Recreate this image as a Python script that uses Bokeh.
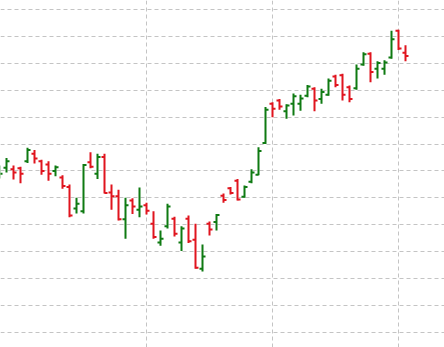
from bokeh.plotting import figure
from bokeh.models import FixedTicker, ColumnDataSource, Range1d
from bokeh.embed import file_html
from bokeh.resources import INLINE

# OHLC data (one bar per session)
opens = [129.0, 130.6, 130.3, 130.5, 131.8, 133.2, 131.8, 131.2, 130.0, 128.8,
         127.0, 123.0, 122.5, 131.6, 129.5, 132.6, 126.0, 125.3, 121.0, 124.5,
         122.8, 123.6, 120.2, 116.7, 119.7, 121.1, 116.7, 121.1, 117.2, 111.8,
         120.2, 120.5, 125.4, 126.8, 128.2, 125.2, 128.0, 129.3, 135.2, 142.5,
         143.1, 141.1, 142.5, 142.5, 144.0, 145.3, 143.4, 144.2, 147.6, 147.8,
         145.6, 145.4, 149.8, 151.8, 149.0, 149.0, 151.1, 156.1, 152.0]
highs = [131.0, 132.4, 131.0, 130.8, 134.3, 133.9, 132.1, 131.8, 131.0, 129.2,
         127.5, 125.0, 131.3, 133.5, 133.2, 133.2, 127.5, 126.5, 125.0, 124.9,
         126.9, 124.1, 122.5, 118.9, 123.9, 121.5, 119.7, 121.7, 120.2, 116.3,
         120.6, 122.0, 125.8, 127.0, 128.5, 127.3, 130.3, 134.4, 141.9, 142.8,
         143.4, 142.4, 144.4, 144.2, 146.0, 145.6, 145.3, 147.2, 147.9, 148.1,
         145.9, 149.8, 152.1, 152.1, 150.4, 150.6, 156.1, 156.3, 153.4]
lows = [128.6, 129.7, 128.4, 127.7, 131.5, 131.4, 129.3, 128.2, 129.0, 126.7,
        121.4, 122.1, 122.1, 130.5, 128.5, 125.8, 122.8, 120.8, 117.4, 122.0,
        121.4, 121.9, 117.4, 116.1, 119.3, 117.8, 115.1, 116.6, 111.8, 111.3,
        118.0, 118.9, 124.1, 125.6, 124.5, 125.0, 127.7, 129.2, 135.0, 140.0,
        141.4, 139.7, 140.3, 141.2, 143.7, 141.1, 142.5, 144.0, 145.6, 143.1,
        142.8, 145.1, 149.6, 146.5, 147.2, 147.9, 150.9, 152.5, 150.4]
closes = [129.5, 131.8, 129.7, 129.5, 133.9, 132.3, 130.0, 129.5, 130.7, 127.2,
          121.7, 123.9, 131.1, 130.8, 132.6, 125.9, 125.3, 121.0, 123.6, 123.4,
          123.4, 122.6, 117.7, 117.4, 123.4, 118.3, 119.3, 116.9, 112.0, 114.1,
          119.1, 121.8, 124.6, 125.9, 124.7, 127.0, 129.7, 133.7, 141.4, 141.6,
          142.0, 142.2, 143.9, 143.5, 145.7, 143.1, 144.7, 146.8, 146.0, 144.2,
          143.4, 149.0, 151.7, 148.4, 150.1, 150.2, 154.5, 152.8, 151.4]

grid_prices = [100, 105, 110, 115, 120, 125, 130, 135, 140, 145, 150, 155, 160]
grid_sessions = [21, 39, 57]

UP = "#0f7a12"
DOWN = "#e0141e"

idx = list(range(len(opens)))
colors = [UP if c >= o else DOWN for o, c in zip(opens, closes)]
tick = 0.43

src = ColumnDataSource(dict(
    x=idx,
    xl=[i - tick for i in idx],
    xr=[i + tick for i in idx],
    o=opens, h=highs, l=lows, c=closes, color=colors,
))

p = figure(width=444, height=347, output_backend="svg", toolbar_location=None,
           x_axis_location=None, y_axis_location=None,
           x_range=Range1d(1 / 7, 445 / 7), y_range=Range1d(97.15, 161.72),
           min_border=0, min_border_left=0, min_border_right=0,
           min_border_top=0, min_border_bottom=0)
p.outline_line_color = None
p.background_fill_color = "white"
p.border_fill_color = "white"

p.xgrid.ticker = FixedTicker(ticks=grid_sessions)
p.ygrid.ticker = FixedTicker(ticks=grid_prices)
for g in (p.xgrid, p.ygrid):
    g.grid_line_color = "#c4c4c4"
    g.grid_line_dash = "4 3"
    g.grid_line_width = 1

p.segment(x0="x", y0="l", x1="x", y1="h", color="color", line_width=2, source=src)
p.segment(x0="xl", y0="o", x1="x", y1="o", color="color", line_width=2, source=src)
p.segment(x0="x", y0="c", x1="xr", y1="c", color="color", line_width=2, source=src)

open("out.html", "w").write(file_html(p, INLINE))
